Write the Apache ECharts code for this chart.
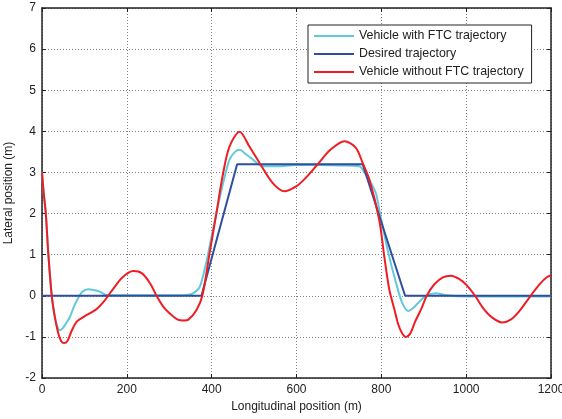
<!DOCTYPE html>
<html>
<head>
<meta charset="utf-8">
<script src="https://cdn.jsdelivr.net/npm/echarts@6/dist/echarts.min.js"></script>
<style>
  html, body { margin: 0; padding: 0; background: #fff; }
  #chart { width: 562px; height: 419px; }
</style>
</head>
<body>
<div id="chart"></div>
<script>
// Longitudinal position (m) and lateral position (m) samples for each trajectory
const desiredX = [0, 376, 460, 756, 856, 1200];
const desiredY = [0, 0, 3.2, 3.2, 0, 0];

const ftcX = [0, 4, 9, 15, 23, 30, 36, 42, 48, 55, 66, 75, 85, 95, 109, 122, 136, 152, 180, 250, 300, 340,
  356, 372, 387, 395, 411, 427, 442, 455, 466, 480, 493, 510, 521, 552, 600, 650, 700, 748, 760, 770,
  787, 795, 815, 835, 850, 864, 875, 889, 905, 929, 950, 980, 1100, 1200];
const ftcY = [3.0, 2.5, 2.0, 1.0, 0, -0.5, -0.75, -0.84, -0.8, -0.7, -0.51, -0.27, -0.06, 0.1, 0.16, 0.14, 0.1, 0.02, 0.01, 0.01, 0.01, 0.02,
  0.06, 0.22, 0.8, 1.2, 2.0, 2.74, 3.31, 3.5, 3.55, 3.45, 3.35, 3.2, 3.15, 3.15, 3.18, 3.18, 3.17, 3.15, 3.0, 2.85,
  2.5, 2.1, 1.11, 0.3, -0.19, -0.37, -0.3, -0.15, 0, 0.06, 0.02, -0.01, -0.02, -0.02];

const noFtcX = [0, 4, 9, 15, 23, 30, 38, 45, 52, 60, 70, 82, 100, 128, 145, 156, 170, 190, 215, 235, 255, 270,
  285, 300, 320, 335, 345, 364, 378, 395, 411, 427, 442, 466, 489, 513, 544, 572, 599, 620, 650, 680, 713,
  740, 756, 772, 795, 807, 819, 830, 840, 850, 858, 868, 880, 895, 907, 925, 945, 964, 985, 1000, 1021,
  1040, 1060, 1085, 1105, 1125, 1152, 1175, 1190, 1200];
const noFtcY = [3.0, 2.5, 2.0, 1.0, 0, -0.5, -0.9, -1.1, -1.15, -1.1, -0.85, -0.63, -0.5, -0.33, -0.15, 0, 0.2, 0.45, 0.6, 0.55, 0.3, 0,
  -0.25, -0.42, -0.58, -0.6, -0.58, -0.35, 0, 1.03, 2.0, 2.98, 3.63, 3.99, 3.63, 3.23, 2.74, 2.54, 2.66, 2.85, 3.2, 3.55, 3.76,
  3.6, 3.23, 2.82, 1.85, 0.95, 0.14, -0.3, -0.7, -0.93, -1.0, -0.92, -0.62, -0.3, 0, 0.28, 0.45, 0.49, 0.4, 0.27, 0,
  -0.3, -0.52, -0.65, -0.58, -0.38, 0, 0.3, 0.45, 0.5];

// Axis ranges and tick spacing
const xTicks = { min: 0, max: 1200, step: 200 };
const yTicks = { min: -2, max: 7, step: 1 };

const pairs = (xs, ys) => xs.map((x, i) => [x, ys[i]]);

const font = 'Liberation Sans, Arial, sans-serif';
const chart = echarts.init(document.getElementById('chart'), null, { renderer: 'canvas' });

const gridLine = { show: true, lineStyle: { color: '#808080', width: 1, type: [1, 2] } };
const frame = { show: true, onZero: false, lineStyle: { color: '#222', width: 1.5 } };
const tick = { show: true, inside: true, length: 4, lineStyle: { color: '#222', width: 1 } };
const plain = v => String(v);

chart.setOption({
  animation: false,
  backgroundColor: '#fff',
  grid: { left: 42, right: 11, top: 8, bottom: 41, containLabel: false, outerBoundsMode: 'none' },
  legend: {
    orient: 'vertical',
    left: 308,
    top: 25,
    padding: [5, 8, 5, 6],
    itemGap: 6,
    itemWidth: 40,
    itemHeight: 2,
    icon: 'rect',
    borderColor: '#222',
    borderWidth: 1,
    backgroundColor: '#fff',
    textStyle: { fontFamily: font, fontSize: 12.4, color: '#222', padding: [0, 0, 0, 0] },
    data: ['Vehicle with FTC trajectory', 'Desired trajectory', 'Vehicle without FTC trajectory']
  },
  xAxis: [{
    type: 'value', min: xTicks.min, max: xTicks.max, interval: xTicks.step,
    name: 'Longitudinal position (m)', nameLocation: 'middle', nameGap: 22,
    nameTextStyle: { fontFamily: font, fontSize: 12, color: '#222' },
    axisLine: frame, axisTick: tick, splitLine: gridLine,
    axisLabel: { fontFamily: font, fontSize: 12, color: '#222', margin: 6, formatter: plain }
  }, {
    type: 'value', position: 'top', min: xTicks.min, max: xTicks.max, interval: xTicks.step,
    axisLine: frame, axisTick: tick, splitLine: { show: false }, axisLabel: { show: false }
  }],
  yAxis: [{
    type: 'value', min: yTicks.min, max: yTicks.max, interval: yTicks.step,
    name: 'Lateral position (m)', nameLocation: 'middle', nameGap: 22,
    nameTextStyle: { fontFamily: font, fontSize: 12, color: '#222' },
    axisLine: frame, axisTick: tick, splitLine: gridLine,
    axisLabel: { fontFamily: font, fontSize: 12, color: '#222', margin: 6, formatter: plain }
  }, {
    type: 'value', position: 'right', min: yTicks.min, max: yTicks.max, interval: yTicks.step,
    axisLine: frame, axisTick: tick, splitLine: { show: false }, axisLabel: { show: false }
  }],
  series: [{
    name: 'Vehicle with FTC trajectory', type: 'line', smooth: 0.3, symbol: 'none',
    color: '#62c9d8', lineStyle: { width: 2, color: '#62c9d8' }, z: 2,
    data: pairs(ftcX, ftcY)
  }, {
    name: 'Desired trajectory', type: 'line', smooth: false, symbol: 'none',
    color: '#2e4ea0', lineStyle: { width: 2, color: '#2e4ea0' }, z: 3,
    data: pairs(desiredX, desiredY)
  }, {
    name: 'Vehicle without FTC trajectory', type: 'line', smooth: 0.3, symbol: 'none',
    color: '#ee1d24', lineStyle: { width: 2, color: '#ee1d24' }, z: 4,
    data: pairs(noFtcX, noFtcY)
  }]
});
</script>
</body>
</html>
